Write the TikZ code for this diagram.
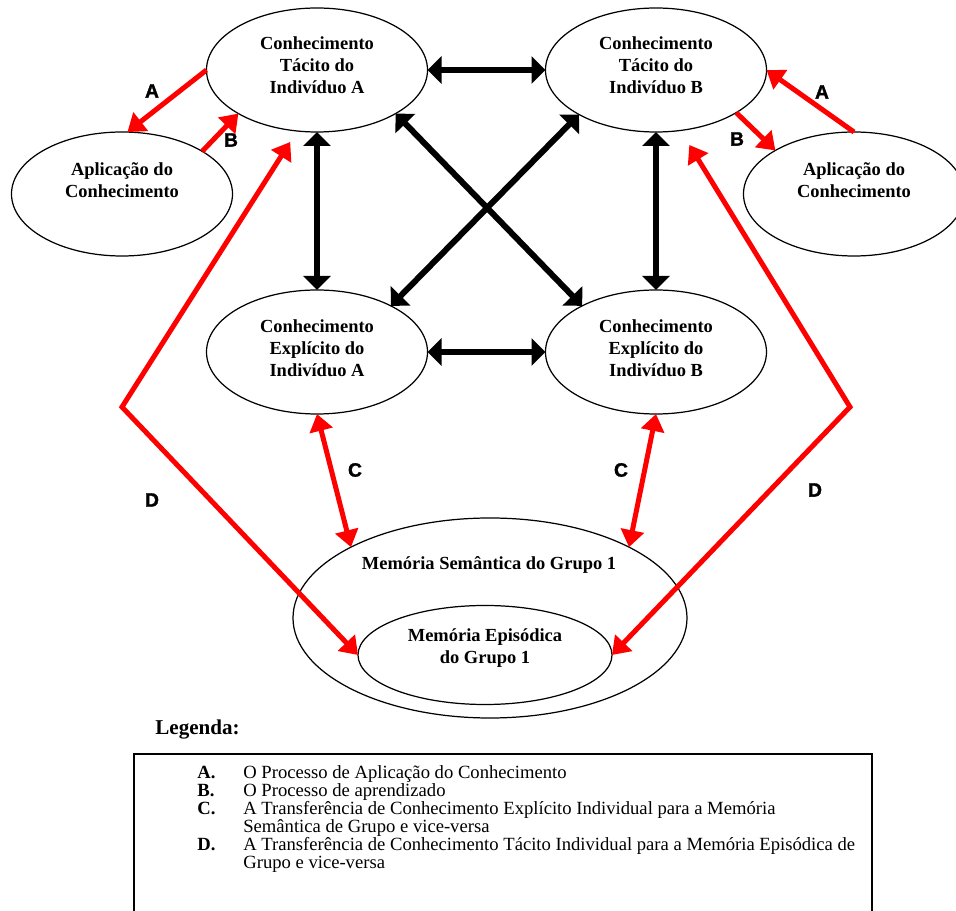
\documentclass[tikz,border=0pt]{standalone}
\usepackage{fontspec}
\setmainfont{Liberation Serif}
\setsansfont{Liberation Sans}
\newfontfamily\pesada[FakeBold=1.5]{Liberation Sans Bold}
\usetikzlibrary{shapes.geometric,arrows.meta}

\begin{document}
\begin{tikzpicture}[x=0.2mm,y=-0.2mm,
    elipse/.style={draw,ellipse,line width=0.7pt,inner sep=0pt,outer sep=0pt,
      minimum width=4.42cm,minimum height=2.48cm},
    texto/.style={font=\fontsize{10.5}{12.5}\selectfont\bfseries,align=center},
    letra/.style={font=\fontsize{11}{13}\selectfont\pesada},
    seta/.style={line width=1.2mm,
      {Triangle[length=2.8mm,width=5.4mm]}-{Triangle[length=2.8mm,width=5.4mm]}},
    setav/.style={red,line width=1mm,-{Triangle[length=3.4mm,width=4.6mm]}},
    setavv/.style={setav,{Triangle[length=3.4mm,width=4.6mm]}-{Triangle[length=3.4mm,width=4.6mm]}}]
  \useasboundingbox (0,0) rectangle (956,911);

  % ellipses
  \node[elipse] (tacA) at (317,70) {};
  \node[elipse] (tacB) at (656,70) {};
  \node[elipse] (aplA) at (122,194) {};
  \node[elipse] (aplB) at (854,194) {};
  \node[elipse] (expA) at (317,352) {};
  \node[elipse] (expB) at (656,352) {};
  \node[elipse,minimum width=7.88cm,minimum height=4cm] (sem) at (490,618) {};
  \node[elipse,minimum width=5.08cm,minimum height=1.98cm] (epi) at (485,655) {};

  % texts
  \node[texto] (tacA-t) at (317,65) {Conhecimento\\Tácito do\\Indivíduo A};
  \node[texto] (tacB-t) at (656,65) {Conhecimento\\Tácito do\\Indivíduo B};
  \node[texto] (aplA-t) at (122,180) {Aplicação do\\Conhecimento};
  \node[texto] (aplB-t) at (854,180) {Aplicação do\\Conhecimento};
  \node[texto] (expA-t) at (317,348) {Conhecimento\\Explícito do\\Indivíduo A};
  \node[texto] (expB-t) at (656,348) {Conhecimento\\Explícito do\\Indivíduo B};
  \node[texto] (sem-t) at (489,565) {Memória Semântica do Grupo 1};
  \node[texto] (epi-t) at (485,648) {Memória Episódica\\do Grupo 1};

  % black arrows
  \draw[seta] (tacA.east) -- (tacB.west);
  \draw[seta] (expA.east) -- (expB.west);
  \draw[seta] (tacA.south) -- (expA.north);
  \draw[seta] (tacB.south) -- (expB.north);
  \draw[seta] (tacA.-29) -- (expB.148);
  \draw[seta] (tacB.-150) -- (expA.32);

  % red arrows
  \draw[setav] (tacA.west) -- (aplA.85);
  \draw[setav] (aplA.28) -- (tacA.209);
  \draw[setav] (aplB.north) -- (tacB.east);
  \draw[setav] (tacB.-28.5) -- (aplB.151);
  \draw[setavv] (expA.south) -- (sem.153);
  \draw[setavv] (expB.south) -- (sem.27.5);
  \coordinate (dobraE) at (122,407);
  \coordinate (dobraD) at (850,407);
  \draw[setavv,shorten <=2.6mm] (tacA.252) -- (dobraE) -- (epi.west);
  \draw[setavv,shorten <=3.4mm] (tacB.292) -- (dobraD) -- (epi.east);

  % letters
  \node[letra] (lA1) at (152,91) {A};
  \node[letra] (lB1) at (231,140) {B};
  \node[letra] (lA2) at (822,92) {A};
  \node[letra] (lB2) at (737,139) {B};
  \node[letra] (lC1) at (355,470) {C};
  \node[letra] (lC2) at (621,470) {C};
  \node[letra] (lD1) at (152,500) {D};
  \node[letra] (lD2) at (815,490) {D};

  % legend
  \node[font=\fontsize{12}{14}\selectfont\bfseries,anchor=west,inner sep=0pt] (legenda) at (155,730) {Legenda:};
  \draw[line width=0.6pt] (134,754) rectangle (872,960);
  \node[anchor=north west,inner sep=0pt,font=\fontsize{10.6}{9.6}\selectfont] (itens) at (197,765) {%
    \begin{tabular}{@{}p{0.92cm}@{}l@{}}
      \textbf{A.} & O Processo de Aplicação do Conhecimento\\
      \textbf{B.} & O Processo de aprendizado\\
      \textbf{C.} & A Transferência de Conhecimento Explícito Individual para a Memória\\
                  & Semântica de Grupo e vice-versa\\
      \textbf{D.} & A Transferência de Conhecimento Tácito Individual para a Memória Episódica de\\
                  & Grupo e vice-versa
    \end{tabular}};
\end{tikzpicture}
\end{document}
